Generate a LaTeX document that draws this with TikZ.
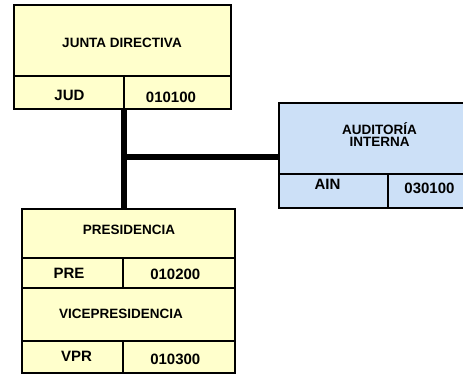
\documentclass[tikz,border=0pt]{standalone}
\usepackage{fontspec}
\setmainfont{Liberation Sans}
\definecolor{yel}{RGB}{255,255,204}
\definecolor{blu}{RGB}{204,224,247}
\begin{document}
\begin{tikzpicture}[x=1pt,y=-1pt,
  ybox/.style={draw=black, line width=1.8pt, fill=yel, inner sep=0pt, anchor=north west},
  bbox/.style={draw=black, line width=1.8pt, fill=blu, inner sep=0pt, anchor=north west},
  hd/.style={font=\bfseries\fontsize{13.5}{12}\selectfont, inner sep=0pt, anchor=base, align=center},
  cd/.style={font=\bfseries\fontsize{15}{15}\selectfont, inner sep=0pt, anchor=base},
  conn/.style={line width=5.5pt, draw=black}]
\clip (0,0) rectangle (463,373);
\fill[white] (0,0) rectangle (463,373);
% connectors
\coordinate (junc) at (124,157);
\coordinate (top) at (124,106);
\coordinate (bot) at (124,209);
\draw[conn] (top) -- (bot);
\draw[conn] (junc) -- (280,157);
% Junta directiva
\node[ybox, minimum width=217pt, minimum height=71pt] (jdh) at (13,4) {};
\node[ybox, minimum width=110pt, minimum height=33pt] (jud) at (13,75) {};
\node[ybox, minimum width=107pt, minimum height=33pt] (jdc) at (123,75) {};
% Auditoria
\node[bbox, minimum width=202pt, minimum height=71pt] (ainh) at (278,102) {};
\node[bbox, minimum width=109pt, minimum height=34pt] (ain) at (278,173) {};
\node[bbox, minimum width=93pt, minimum height=34pt] (ainc) at (387,173) {};
% Presidencia
\node[ybox, minimum width=213pt, minimum height=49pt] (presh) at (21,208) {};
\node[ybox, minimum width=101pt, minimum height=30pt] (pre) at (21,257) {};
\node[ybox, minimum width=112pt, minimum height=30pt] (prec) at (122,257) {};
\node[ybox, minimum width=213pt, minimum height=53pt] (vph) at (21,287) {};
\node[ybox, minimum width=101pt, minimum height=32pt] (vpr) at (21,340) {};
\node[ybox, minimum width=112pt, minimum height=32pt] (vprc) at (122,340) {};
% texts
\node[hd] (tjd) at (122,47.5) {JUNTA DIRECTIVA};
\node[cd] (tjud) at (69.5,100.5) {JUD};
\node[cd] (tjdc) at (171,102) {010100};
\node[hd] (tain) at (379.5,146) {AUDITORÍA\\INTERNA};
\node[cd] (taina) at (327.5,189) {AIN};
\node[cd] (tainc) at (429.5,193) {030100};
\node[hd] (tpres) at (129,234.3) {PRESIDENCIA};
\node[cd] (tpre) at (69,278.3) {PRE};
\node[cd] (tprec) at (175.3,279.3) {010200};
\node[hd] (tvp) at (121,318.3) {VICEPRESIDENCIA};
\node[cd] (tvpr) at (76.5,361.7) {VPR};
\node[cd] (tvprc) at (175.3,364.3) {010300};
\end{tikzpicture}
\end{document}
